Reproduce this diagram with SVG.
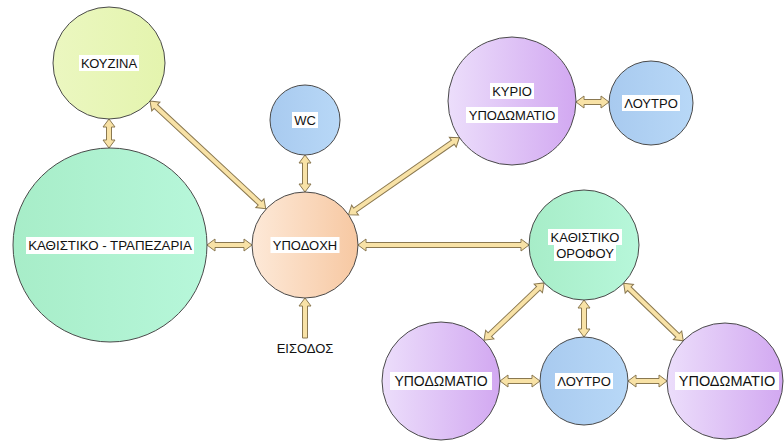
<svg xmlns="http://www.w3.org/2000/svg" width="784" height="442" viewBox="0 0 784 442">
<defs>
<linearGradient id="gYellow" x1="0" y1="0" x2="1" y2="0"><stop offset="0" stop-color="#ebf7c0"/><stop offset="1" stop-color="#e4f4ae"/></linearGradient>
<linearGradient id="gGreen" x1="0" y1="0" x2="1" y2="0"><stop offset="0" stop-color="#a7edc8"/><stop offset="1" stop-color="#b7f7da"/></linearGradient>
<linearGradient id="gBlue" x1="0" y1="0" x2="1" y2="0"><stop offset="0" stop-color="#a8caef"/><stop offset="1" stop-color="#b8d8f7"/></linearGradient>
<linearGradient id="gOrange" x1="0" y1="0" x2="1" y2="0"><stop offset="0" stop-color="#fde9d8"/><stop offset="1" stop-color="#f7c8a2"/></linearGradient>
<linearGradient id="gPurple" x1="0" y1="0" x2="1" y2="0"><stop offset="0" stop-color="#ecdefb"/><stop offset="1" stop-color="#d2a8f1"/></linearGradient>
</defs>
<style>
circle{stroke:#4a4a4a;stroke-width:1}
.bg{fill:#ffffff}
text{font-family:"Liberation Sans",Arial,sans-serif;font-size:13px;fill:#111;text-anchor:middle}
.big{font-size:14px}
.arr{fill:#f8e2a6;stroke:#8a7850;stroke-width:1;stroke-linejoin:miter}
</style>
<g id="connectors">
<path class="arr" transform="translate(109,119) rotate(90)" d="M0,0 L8,-6 L8,-2.5 L21,-2.5 L21,-6 L29,0 L21,6 L21,2.5 L8,2.5 L8,6Z"/>
<path class="arr" transform="translate(150,101.1) rotate(42.9)" d="M0,0 L8,-6 L8,-2.5 L150,-2.5 L150,-6 L158,0 L150,6 L150,2.5 L8,2.5 L8,6Z"/>
<path class="arr" transform="translate(207,245)" d="M0,0 L8,-6 L8,-2.5 L37,-2.5 L37,-6 L45,0 L37,6 L37,2.5 L8,2.5 L8,6Z"/>
<path class="arr" transform="translate(305,155) rotate(90)" d="M0,0 L8,-6 L8,-2.5 L29,-2.5 L29,-6 L37,0 L29,6 L29,2.5 L8,2.5 L8,6Z"/>
<path class="arr" transform="translate(348.5,214.7) rotate(-34.8)" d="M0,0 L8,-6 L8,-2.5 L127,-2.5 L127,-6 L135,0 L127,6 L127,2.5 L8,2.5 L8,6Z"/>
<path class="arr" transform="translate(358,245)" d="M0,0 L8,-6 L8,-2.5 L163,-2.5 L163,-6 L171,0 L163,6 L163,2.5 L8,2.5 L8,6Z"/>
<path class="arr" transform="translate(305,338) rotate(-90)" d="M0,-2.5 L32,-2.5 L32,-6 L40,0 L32,6 L32,2.5 L0,2.5Z"/>
<path class="arr" transform="translate(576,102)" d="M0,0 L8,-6 L8,-2.5 L25,-2.5 L25,-6 L33,0 L25,6 L25,2.5 L8,2.5 L8,6Z"/>
<path class="arr" transform="translate(544.1,282.9) rotate(136.4)" d="M0,0 L8,-6 L8,-2.5 L75,-2.5 L75,-6 L83,0 L75,6 L75,2.5 L8,2.5 L8,6Z"/>
<path class="arr" transform="translate(584,300) rotate(90)" d="M0,0 L8,-6 L8,-2.5 L29,-2.5 L29,-6 L37,0 L29,6 L29,2.5 L8,2.5 L8,6Z"/>
<path class="arr" transform="translate(623.6,283.2) rotate(44)" d="M0,0 L8,-6 L8,-2.5 L75,-2.5 L75,-6 L83,0 L75,6 L75,2.5 L8,2.5 L8,6Z"/>
<path class="arr" transform="translate(500,381)" d="M0,0 L8,-6 L8,-2.5 L32,-2.5 L32,-6 L40,0 L32,6 L32,2.5 L8,2.5 L8,6Z"/>
<path class="arr" transform="translate(628,381)" d="M0,0 L8,-6 L8,-2.5 L31,-2.5 L31,-6 L39,0 L31,6 L31,2.5 L8,2.5 L8,6Z"/>
</g>
<g id="kouzina">
<circle cx="109" cy="63" r="56" fill="url(#gYellow)"/>
<rect class="bg" x="79" y="55" width="60" height="16"/>
<text x="109" y="67.5">ΚΟΥΖΙΝΑ</text>
</g>
<g id="kathistiko-trapezaria">
<circle cx="110" cy="245" r="97" fill="url(#gGreen)"/>
<rect class="bg" x="26" y="237" width="168" height="17"/>
<text x="110" y="250" style="font-size:13.3px">ΚΑΘΙΣΤΙΚΟ - ΤΡΑΠΕΖΑΡΙΑ</text>
</g>
<g id="wc">
<circle cx="305" cy="120" r="35" fill="url(#gBlue)"/>
<rect class="bg" x="292" y="112" width="26" height="16"/>
<text x="305" y="124.5">WC</text>
</g>
<g id="ypodoxi">
<circle cx="305" cy="245" r="53" fill="url(#gOrange)"/>
<rect class="bg" x="270.5" y="237" width="69" height="16"/>
<text x="305" y="249.5">ΥΠΟΔΟΧΗ</text>
</g>
<g id="eisodos">
<text x="305" y="353">ΕΙΣΟΔΟΣ</text>
</g>
<g id="kyrio-ypnodomatio">
<circle cx="512" cy="101" r="64" fill="url(#gPurple)"/>
<rect class="bg" x="490" y="83" width="44" height="16"/>
<text x="512" y="95.5">ΚΥΡΙΟ</text>
<rect class="bg" x="466" y="107" width="92" height="16"/>
<text x="512" y="119.5">ΥΠΟΔΩΜΑΤΙΟ</text>
</g>
<g id="loutro-1">
<circle cx="651" cy="103" r="42" fill="url(#gBlue)"/>
<rect class="bg" x="622" y="95" width="58" height="16"/>
<text x="651" y="107.5">ΛΟΥΤΡΟ</text>
</g>
<g id="kathistiko-orofou">
<circle cx="584" cy="245" r="55" fill="url(#gGreen)"/>
<rect class="bg" x="548" y="229" width="74" height="16"/>
<text x="585" y="241.5">ΚΑΘΙΣΤΙΚΟ</text>
<rect class="bg" x="554" y="245" width="62" height="16"/>
<text x="585" y="257.5">ΟΡΟΦΟΥ</text>
</g>
<g id="ypnodomatio-1">
<circle cx="441" cy="381" r="59" fill="url(#gPurple)"/>
<rect class="bg" x="390" y="372" width="102" height="18"/>
<text class="big" x="441" y="386">ΥΠΟΔΩΜΑΤΙΟ</text>
</g>
<g id="loutro-2">
<circle cx="584" cy="381" r="44" fill="url(#gBlue)"/>
<rect class="bg" x="555" y="373" width="58" height="16"/>
<text x="584" y="385.5">ΛΟΥΤΡΟ</text>
</g>
<g id="ypnodomatio-2">
<circle cx="725" cy="381" r="58" fill="url(#gPurple)"/>
<rect class="bg" x="675" y="372" width="104" height="18"/>
<text class="big" x="727" y="386" style="font-size:14.5px">ΥΠΟΔΩΜΑΤΙΟ</text>
</g>
</svg>
